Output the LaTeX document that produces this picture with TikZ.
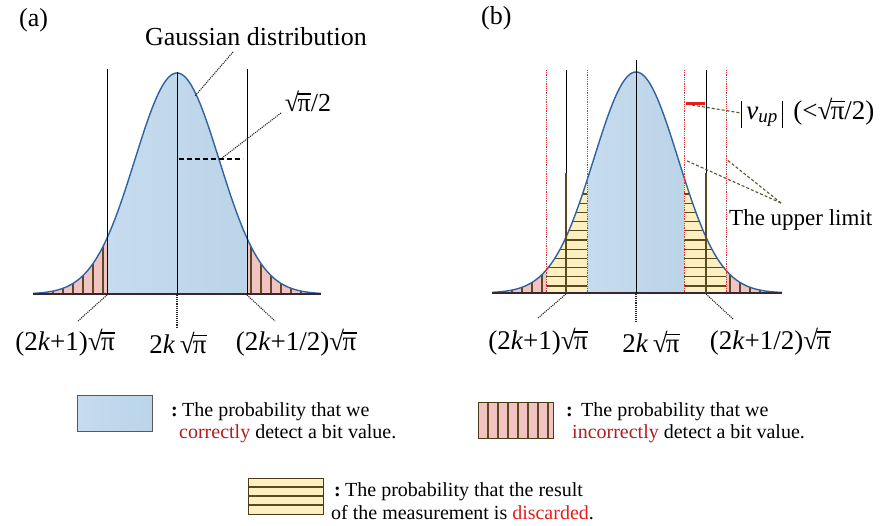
\documentclass[tikz,border=0pt]{standalone}
\usepackage{fontspec}
\setmainfont{Liberation Serif}
\usetikzlibrary{calc}
\definecolor{blueL}{HTML}{C5DCEE}
\definecolor{blueR}{HTML}{BCD4E8}
\definecolor{curveC}{HTML}{2F63A0}
\definecolor{pinkF}{HTML}{F3C2C2}
\definecolor{yelF}{HTML}{FCEFC0}
\definecolor{hatchC}{HTML}{5A4A1E}
\definecolor{redDot}{HTML}{D23A3A}
\definecolor{redBar}{HTML}{E81C1C}
\definecolor{darkRed}{HTML}{B01E1E}
\definecolor{brightRed}{HTML}{E02020}
\definecolor{leadC}{HTML}{55552E}
\definecolor{baseC}{HTML}{3A2630}
\newcommand\sqpi{\mbox{√\kern-0.06em\rlap{\rule[0.64em]{0.52em}{0.055em}}π}}
\newcommand\gy[2]{#2-221*exp(-0.5*(#1/42.2)*(#1/42.2))}
\begin{document}
\begin{tikzpicture}[x=1pt,y=-1pt,
  hatchln/.style={draw=hatchC,line width=1.1pt},
  vline/.style={draw=black,line width=1pt},
  reddot/.style={draw=redDot,line width=0.8pt,densely dotted},
  leadA/.style={draw=black!85,line width=1.1pt,densely dotted},
  leadB/.style={draw=leadC,line width=1.1pt,densely dashed},
  curve/.style={draw=curveC,line width=1.4pt},
  baseln/.style={draw=baseC,line width=2pt},
  big/.style={font=\fontsize{26}{26}\selectfont,inner sep=0pt},
  axlbl/.style={font=\fontsize{27}{27}\selectfont,inner sep=0pt},
  legtxt/.style={font=\fontsize{20}{20}\selectfont,inner sep=0pt,anchor=west},
  legbox/.style={draw=black!65,line width=1pt}]
\useasboundingbox (0,0) rectangle (896,525);

% ================= panel (a) =================
\shade[left color=blueL,right color=blueR] (107,294) -- plot[domain=-70:70,samples=60] ({177+\x},{\gy{\x}{294}}) -- (247,294) -- cycle;
\fill[pinkF] (33,294) -- plot[domain=-144:-70,samples=40] ({177+\x},{\gy{\x}{294}}) -- (107,294) -- cycle;
\fill[pinkF] (247,294) -- plot[domain=70:144,samples=40] ({177+\x},{\gy{\x}{294}}) -- (321,294) -- cycle;
\foreach \d in {74,84,...,134} {
  \draw[hatchln] ({177-\d},294) -- ({177-\d},{\gy{\d}{294}});
  \draw[hatchln] ({177+\d},294) -- ({177+\d},{\gy{\d}{294}});
}
\draw[curve] plot[domain=-144:144,samples=150] ({177+\x},{\gy{\x}{294}});
\draw[baseln] (33,294) -- (321,294);
\draw[vline] (107,69) -- (107,294);
\draw[vline] (177,72) -- (177,294);
\draw[vline] (247,69) -- (247,294);
\draw[black,line width=2.8pt,dash pattern=on 5pt off 3pt] (179,159) -- (243,159);

\node[big,anchor=west] (pa) at (19,20) {(a)};
\node[big] (gauss) at (256,37) {Gaussian distribution};
\node[big] (halfa) at (308,101) {\sqpi/2};
\coordinate (g1) at (233,52); \coordinate (g2) at (195,96);
\draw[leadA] (g1) -- (g2);
\coordinate (h1) at (281,113); \coordinate (h2) at (222,158);
\draw[leadA] (h1) -- (h2);

\coordinate (a1t) at (107,295); \coordinate (a1b) at (78,321);
\coordinate (a2t) at (177,295); \coordinate (a2b) at (177,327);
\coordinate (a3t) at (247,295); \coordinate (a3b) at (275,321);
\draw[leadA] (a1t) -- (a1b);
\draw[leadA] (a2t) -- (a2b);
\draw[leadA] (a3t) -- (a3b);
\node[axlbl] (la1) at (65,343) {(2\textit{k}+1)\sqpi};
\node[axlbl] (la2) at (178,343) {2\textit{k}\,\sqpi};
\node[axlbl] (la3) at (296,343) {(2\textit{k}+1/2)\sqpi};

% ================= panel (b) =================
\shade[left color=blueL,right color=blueR] (587,293) -- plot[domain=-49:48,samples=50] ({636+\x},{\gy{\x}{293}}) -- (684,293) -- cycle;
\fill[pinkF] (492,293) -- plot[domain=-144:-90,samples=30] ({636+\x},{\gy{\x}{293}}) -- (546,293) -- cycle;
\fill[pinkF] (726,293) -- plot[domain=90:146,samples=30] ({636+\x},{\gy{\x}{293}}) -- (782,293) -- cycle;
\foreach \d in {94,104,...,134} {
  \draw[hatchln] ({636-\d},293) -- ({636-\d},{\gy{\d}{293}});
  \draw[hatchln] ({636+\d},293) -- ({636+\d},{\gy{\d}{293}});
}
\begin{scope}
  \clip (546,293) -- plot[domain=-90:-49,samples=30] ({636+\x},{\gy{\x}{293}}) -- (587,293) -- cycle;
  \fill[yelF] (540,150) rectangle (590,295);
  \foreach \yy in {286,276.8,...,185} \draw[hatchln] (540,\yy) -- (590,\yy);
\end{scope}
\begin{scope}
  \clip (684,293) -- plot[domain=48:90,samples=30] ({636+\x},{\gy{\x}{293}}) -- (726,293) -- cycle;
  \fill[yelF] (680,150) rectangle (730,295);
  \foreach \yy in {286,276.8,...,185} \draw[hatchln] (680,\yy) -- (730,\yy);
\end{scope}
\draw[curve] plot[domain=-144:146,samples=150] ({636+\x},{\gy{\x}{293}});
\draw[baseln] (492,293) -- (782,293);
\draw[vline] (566,70) -- (566,173);
\draw[draw=hatchC,line width=1.1pt] (566,173) -- (566,293);
\draw[vline] (706,70) -- (706,173);
\draw[draw=hatchC,line width=1.1pt] (706,173) -- (706,293);
\draw[vline] (636,60) -- (636,293);
\foreach \xx in {546,587,684,726} \draw[reddot] (\xx,70) -- (\xx,293);
\draw[draw=redBar,line width=3pt] (686,103) -- (705,103);

\node[big,anchor=west] (pb) at (481,18) {(b)};
\node[font=\fontsize{27}{27}\selectfont,inner sep=0pt,anchor=west] (vup) at (741,113)
  {\rule[-0.3em]{0.7pt}{1.0em}\,\textit{v\raisebox{-0.12em}{\fontsize{19}{19}\selectfont up}}\,\rule[-0.3em]{0.7pt}{1.0em}\hspace{0.4em}(<\sqpi/2)};
\coordinate (v1) at (692,105); \coordinate (v2) at (741,113);
\draw[leadB] (v1) -- (v2);
\node[font=\fontsize{23}{23}\selectfont,inner sep=0pt,anchor=west] (upper) at (729,220) {The upper limit};
\coordinate (u0) at (781,203);
\coordinate (u1) at (685,160); \coordinate (u2) at (726,159);
\draw[leadB] (u0) -- (u1);
\draw[leadB] (u0) -- (u2);

\coordinate (b1t) at (566,294); \coordinate (b1b) at (538,318);
\coordinate (b2t) at (636,294); \coordinate (b2b) at (636,323);
\coordinate (b3t) at (706,294); \coordinate (b3b) at (733,319);
\draw[leadA] (b1t) -- (b1b);
\draw[leadA] (b2t) -- (b2b);
\draw[leadA] (b3t) -- (b3b);
\node[axlbl] (lb1) at (538,342) {(2\textit{k}+1)\sqpi};
\node[axlbl] (lb2) at (651,342) {2\textit{k}\,\sqpi};
\node[axlbl] (lb3) at (770,342) {(2\textit{k}+1/2)\sqpi};

% ================= legend =================
\shade[left color=blueL,right color=blueR] (77,395) rectangle (152,431);
\draw[legbox] (77,395) rectangle (152,431);
\node[legtxt] (ca) at (171,412) {\textbf{:}};
\node[legtxt] (ta1) at (182,412) {The probability that we};
\node[legtxt] (ta2) at (179,434) {\textcolor{darkRed}{correctly} detect a bit value.};

\fill[pinkF] (478,402) rectangle (553,438);
\foreach \xx in {488,498,...,548} \draw[hatchln] (\xx,402) -- (\xx,438);
\draw[legbox,draw=hatchC!80!black] (478,402) rectangle (553,438);
\node[legtxt] (cb) at (566,412) {\textbf{:}};
\node[legtxt] (tb1) at (581,412) {The probability that we};
\node[legtxt] (tb2) at (572,434) {\textcolor{darkRed}{incorrectly} detect a bit value.};

\fill[yelF] (248,478) rectangle (323,514);
\foreach \yy in {487,496,505} \draw[hatchln] (248,\yy) -- (323,\yy);
\draw[legbox,draw=hatchC!80!black] (248,478) rectangle (323,514);
\node[legtxt] (cc) at (334,492) {\textbf{:}};
\node[legtxt] (tc1) at (345,492) {The probability that the result};
\node[legtxt] (tc2) at (331,513) {of the measurement is \textcolor{brightRed}{discarded}.};
\end{tikzpicture}
\end{document}
